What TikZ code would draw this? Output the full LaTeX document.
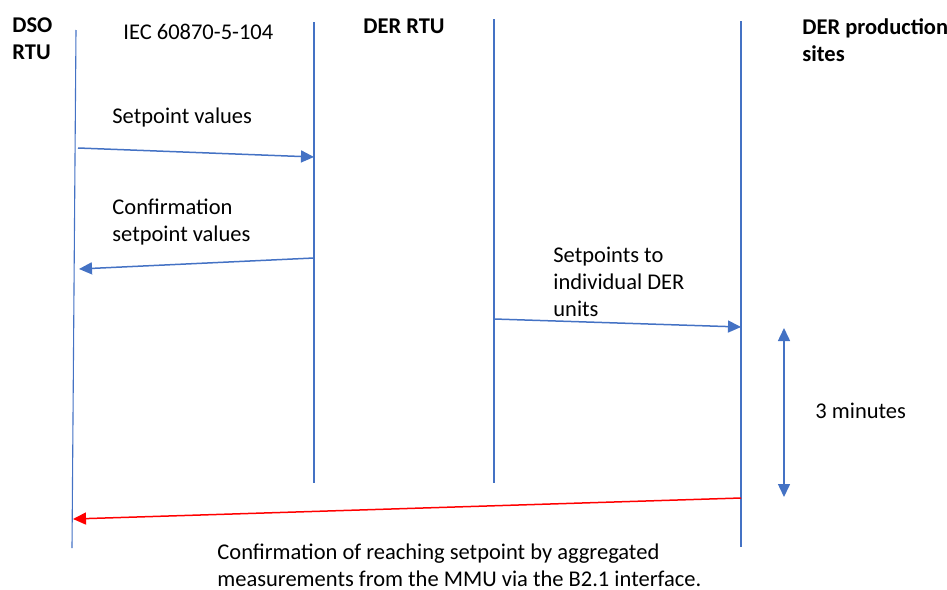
\documentclass[tikz,border=0pt]{standalone}
\usepackage{fontspec}
\setmainfont{Carlito}
\usetikzlibrary{arrows.meta}
\definecolor{lineblue}{RGB}{68,114,196}
\definecolor{confred}{RGB}{255,0,0}

\begin{document}
\begin{tikzpicture}[x=0.5pt,y=-0.5pt,>={Triangle[length=6.5pt,width=6pt]},
    font=\fontsize{11.25}{13.5}\selectfont]
      \tikzstyle{lifeline}=[draw=lineblue, line width=0.55pt]
      \tikzstyle{message}=[->, draw=lineblue, line width=0.75pt]
      \tikzstyle{confirm}=[message, draw=confred]
      \tikzstyle{party}=[align=left, anchor=north west, inner sep=0pt, font=\fontsize{11.25}{13.5}\selectfont\bfseries]
      \tikzstyle{annot}=[align=left, anchor=north west, inner sep=0pt]

      \useasboundingbox (0,0) rectangle (947,589);

      % Draw the lifelines
      \coordinate (DSO-top) at (76,30);
      \coordinate (DSO-bot) at (72,548);
      \coordinate (RTUL-top) at (314,22);
      \coordinate (RTUL-bot) at (314,483);
      \coordinate (RTUR-top) at (494,19);
      \coordinate (RTUR-bot) at (494,483);
      \coordinate (SITE-top) at (741,21);
      \coordinate (SITE-bot) at (741,547);
      \foreach \party in {DSO, RTUL, RTUR, SITE}
          \draw[lifeline] (\party-top) -- (\party-bot);

      % Name the parties
      \node[party] (dso) at (12,17) {DSO\\RTU};
      \node[annot] (iec) at (123,24) {IEC 60870-5-104};
      \node[party] (der) at (363,19) {DER RTU};
      \node[party] (site) at (802,18) {DER production\\sites};

      % Draw the messages
      \coordinate (SP-out) at (78,148);
      \coordinate (SP-in) at (314,157);
      \coordinate (CONF-out) at (314,258);
      \coordinate (CONF-in) at (79,269);
      \coordinate (UNIT-out) at (494,319);
      \coordinate (UNIT-in) at (741,327);
      \coordinate (MEAS-out) at (741,498);
      \coordinate (MEAS-in) at (73,519);
      \draw[message] (SP-out) -- (SP-in);
      \draw[message] (CONF-out) -- (CONF-in);
      \draw[message] (UNIT-out) -- (UNIT-in);
      \draw[confirm] (MEAS-out) -- (MEAS-in);

      % Annotate the messages
      \node[annot] (sp) at (112,107) {Setpoint values};
      \node[annot] (conf) at (112,199) {Confirmation\\setpoint values};
      \node[annot] (unit) at (553,247) {Setpoints to\\individual DER\\units};
      \node[annot] (meas) at (217,543) {Confirmation of reaching setpoint by aggregated\\measurements from the MMU via the B2.1 interface.};

      % Time span for reaching the setpoint
      \coordinate (SPAN-top) at (784,328);
      \coordinate (SPAN-bot) at (784,497);
      \draw[message, <->] (SPAN-top) -- (SPAN-bot);
      \node[annot] (span) at (815,403) {3 minutes};
  \end{tikzpicture}
\end{document}
